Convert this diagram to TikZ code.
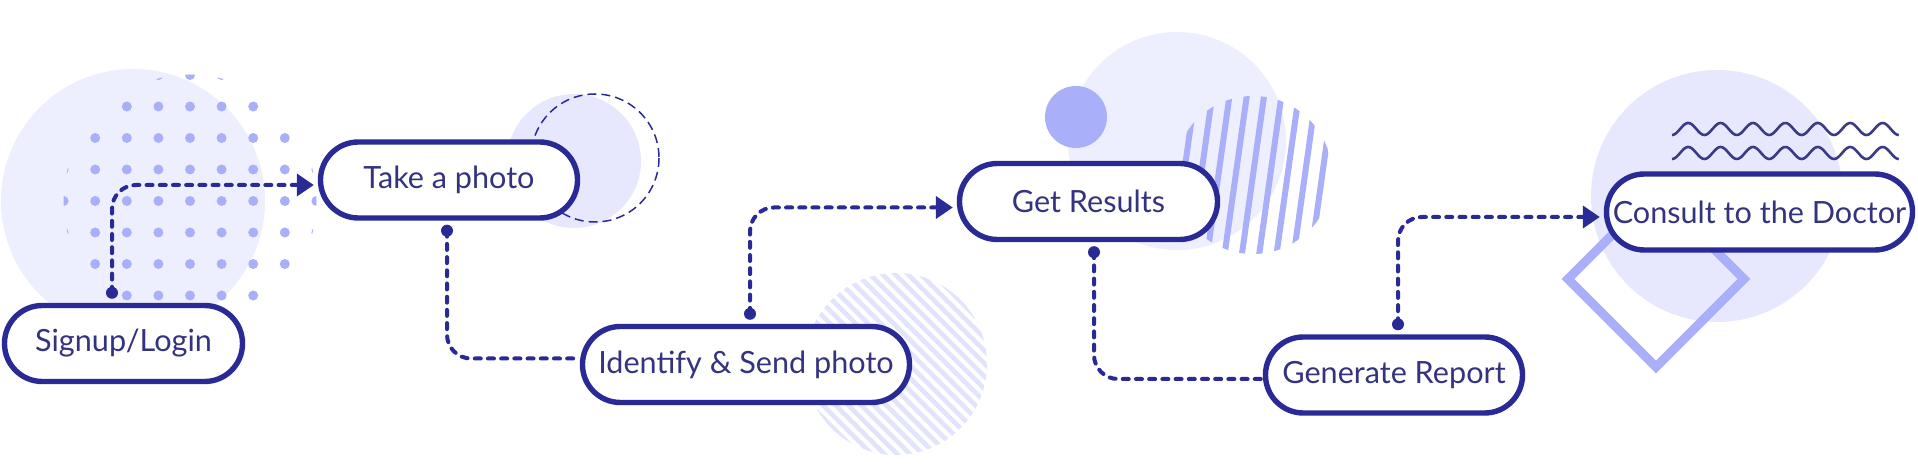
\documentclass[tikz,border=0pt]{standalone}
\usepackage{fontspec}
\setmainfont{Lato}
\usetikzlibrary{arrows.meta,calc}
\definecolor{edgeblue}{HTML}{2A2A96}
\definecolor{inkblue}{HTML}{33337F}
\definecolor{lilac}{HTML}{A9AFF9}
\definecolor{palebg}{HTML}{EEEFFE}
\definecolor{palefill}{HTML}{E7E8FD}
\definecolor{palestripe}{HTML}{E1E4FC}
\definecolor{wavecol}{HTML}{3A3A85}

\begin{document}
\begin{tikzpicture}[x=0.5pt,y=-0.5pt,
    stage/.style={draw=edgeblue, line width=2.7pt, fill=white, rounded corners=18.9pt,
        minimum height=38pt, inner sep=0pt, text=inkblue, font=\fontsize{15.3}{18}\selectfont},
    link/.style={edgeblue, line width=2pt, dash pattern=on 3pt off 3.6pt, line cap=round, rounded corners=12pt},
    flowtip/.style={-{Triangle[length=8.5pt,width=11pt]}},
    knob/.style={circle, fill=edgeblue, inner sep=0pt, minimum size=6pt}]
            % Canvas
            \useasboundingbox (0,0) rectangle (1918,464);
            \fill[white] (0,0) rectangle (1918,464);

            % Soft discs behind the steps
            \fill[palebg] (133,201) circle (132);
            \fill[palebg] (1177,141) circle (109);
            \fill[palefill] (574,161) circle (67);
            \fill[palefill] (1717,196) circle (126);

            % Dot grid
            \begin{scope}
                \clip (190,201) circle (126.5);
                \foreach \i in {-4,...,4}
                    \foreach \j in {-4,...,4}
                        \fill[lilac] (190+31.6*\i,201+31.5*\j) circle (5);
            \end{scope}

            % Dashed ring
            \draw[edgeblue, line width=0.75pt, dash pattern=on 4.5pt off 2.5pt] (595,158) circle (64);

            % Striped discs
            \begin{scope}
                \clip (896,364) circle (91);
                \foreach \k in {-11,...,11}
                    \draw[palestripe, line width=2.3pt] (766+\k*12.7,234) -- (1026+\k*12.7,494);
            \end{scope}
            \begin{scope}
                \clip (1253,175) circle (79);
                \foreach \k in {-5,...,5}
                    \draw[lilac, line width=3pt] (1253+\k*17.3+14,75) -- (1253+\k*17.3-14,275);
            \end{scope}
            \fill[lilac] (1076,117) circle (31);

            % Diamond and waves
            \draw[lilac, line width=4.5pt] (1656,191) -- (1744,279) -- (1656,367) -- (1568,279) -- cycle;
            \foreach \wy in {129,153}
                \draw[wavecol, line width=1.3pt] plot[domain=0:226.8, samples=160, smooth] ({1672+\x},{\wy+6*cos(\x/32.4*360)});

            % Steps
            \node[stage, minimum width=119pt] (signup) at (123.5,343.5) {Signup/Login};
            \node[stage, minimum width=128.5pt] (photo) at (449,180) {Take a photo};
            \node[stage, minimum width=163.5pt] (identify) at (746,364.5) {Identify \& Send photo};
            \node[stage, minimum width=129pt] (results) at (1088.5,201.5) {Get Results};
            \node[stage, minimum width=128.5pt] (report) at (1394,375) {Generate Report};
            \node[stage, minimum width=153pt] (doctor) at (1759.5,212) {Consult to the Doctor};

            % Connectors
            \node[knob] (k1) at ($(signup.north)+(-11.5,-10)$) {};
            \draw[link, flowtip] (k1.center) |- ($(photo.west)+(-4,5)$);
            \node[knob] (k2) at ($(photo.south)+(-2,10)$) {};
            \draw[link] (k2.center) |- ($(identify.west)+(0,-6)$);
            \node[knob] (k3) at ($(identify.north)+(4,-10)$) {};
            \draw[link, flowtip] (k3.center) |- ($(results.west)+(-4,6)$);
            \node[knob] (k4) at ($(results.south)+(5.5,10)$) {};
            \draw[link] (k4.center) |- ($(report.west)+(0,4)$);
            \node[knob] (k5) at ($(report.north)+(4,-10)$) {};
            \draw[link, flowtip] (k5.center) |- ($(doctor.west)+(-4,5)$);

        \end{tikzpicture}
\end{document}
